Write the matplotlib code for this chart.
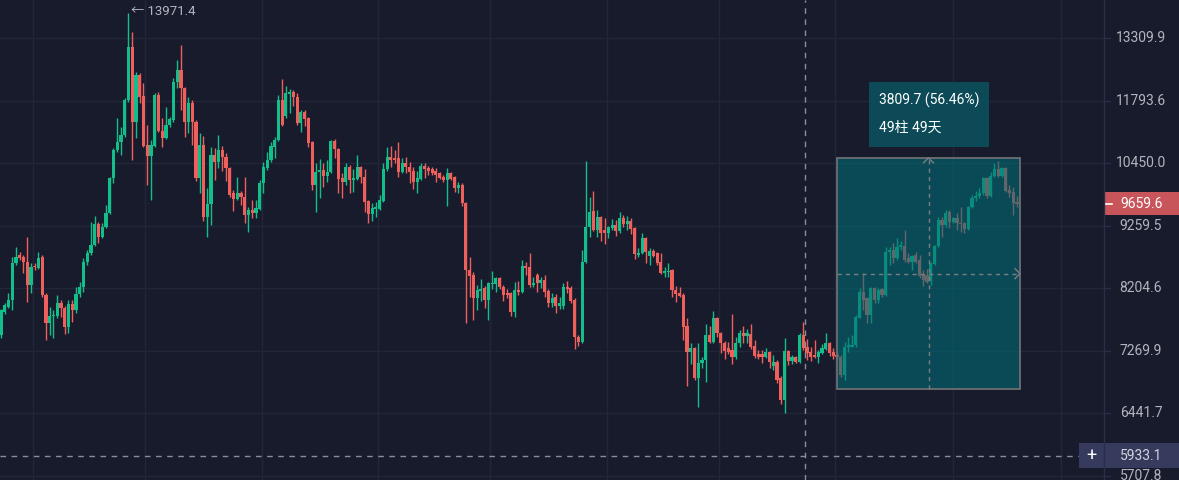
import numpy as np
import matplotlib.pyplot as plt
import matplotlib.transforms as mtransforms
from matplotlib.patches import Rectangle
from matplotlib.lines import Line2D

# daily candles
opens = [7496, 7837, 7913, 8021, 8616, 8750, 8717, 8633, 8257, 8566,
         8533, 8717, 8099, 7672, 7776, 7776, 7975, 7898, 7613, 7959,
         7867, 8115, 8225, 8633, 8784, 8921, 9290, 9060, 9237, 9490,
         10154, 10719, 10886, 11035, 11806, 13081, 11315, 12392, 11898, 10824,
         10596, 10802, 11921, 11120, 10971, 11250, 11359, 12225, 12511, 12084,
         11315, 11738, 11315, 10154, 10824, 9417, 9657, 10617, 10474, 10719,
         10576, 10352, 9864, 9750, 9864, 9788, 9453, 9545, 9490, 9564,
         10057, 10352, 10514, 10782, 10928, 11806, 11447, 11944, 11991, 11875,
         11294, 11536, 11403, 10886, 10018, 10272, 10312, 10194, 10272, 10907,
         10740, 10154, 10076, 10373, 10115, 10135, 10373, 10174, 9712, 9472,
         9564, 9564, 9712, 10332, 10576, 10555, 10555, 10272, 10454, 10373,
         10292, 10076, 10135, 10393, 10352, 10332, 10292, 10253, 10174, 10115,
         10253, 10174, 9960, 10018, 9675, 8500, 8419, 8052, 8161, 8209,
         8021, 8273, 8273, 8370, 8225, 8130, 8130, 7837, 8177, 8146,
         8566, 8550, 8257, 8419, 8289, 8337, 8161, 7975, 8068, 7929,
         7929, 8225, 8209, 8021, 7467, 7396, 8633, 9237, 9527, 9183,
         9417, 9183, 9130, 9219, 9272, 9165, 9399, 9290, 9344, 9219,
         8750, 8784, 9042, 8734, 8818, 8784, 8633, 8451, 8467, 8500,
         8177, 8130, 8099, 7628, 7254, 7310, 6898, 7101, 7142, 7496,
         7396, 7746, 7526, 7381, 7310, 7282, 7184, 7381, 7526, 7482,
         7511, 7339, 7226, 7226, 7184, 7254, 7060, 7115, 6898, 6611,
         7268, 7128, 7184, 7115, 7496, 7325, 7254, 7212, 7184, 7240,
         7296, 7381, 7254, 7212, 7184, 6938, 7325, 7325, 7353, 7746,
         8146, 8052, 7792, 8209, 8021, 8193, 8099, 8801, 8835, 8700,
         8884, 8904, 8700, 8633, 8750, 8666, 8435, 8419, 8321, 8600,
         8904, 9362, 9272, 9508, 9326, 9399, 9308, 9308, 9201, 9601,
         9769, 9807, 9864, 10154, 9807, 10194, 10332, 10194, 10352, 9921,
         9883, 9694]
highs = [7880, 7975, 8130, 8717, 8884, 8801, 8750, 9060, 8616, 8616,
         8801, 8750, 8130, 7913, 7867, 8099, 8021, 7929, 8021, 8021,
         8225, 8305, 8700, 8835, 9326, 9435, 9326, 9308, 9638, 10174,
         10761, 11403, 11206, 11852, 13971.4, 13465, 12463, 12439, 12202, 11250,
         10928, 11968, 11991, 11403, 11648, 11425, 12320, 12756, 13132, 12108,
         11875, 11806, 11359, 11077, 11013, 9960, 10782, 10761, 11035, 10802,
         10658, 10373, 9921, 10174, 9902, 10174, 9601, 9731, 9731, 10115,
         10474, 10678, 10886, 10992, 11921, 12296, 12131, 12060, 12037, 11968,
         11580, 11580, 11425, 10900, 10454, 10535, 10454, 10514, 10928, 10949,
         10761, 10253, 10454, 10413, 10332, 10617, 10393, 10332, 9731, 9675,
         9694, 9826, 10454, 10782, 10802, 10719, 10886, 10555, 10576, 10474,
         10373, 10292, 10454, 10454, 10393, 10373, 10352, 10272, 10214, 10352,
         10272, 10190, 10076, 10057, 9694, 8717, 8467, 8257, 8353, 8241,
         8305, 8484, 8386, 8386, 8257, 8193, 8146, 8305, 8321, 8666,
         8633, 8784, 8386, 8451, 8386, 8419, 8193, 8130, 8115, 8068,
         8289, 8321, 8241, 8052, 7496, 8835, 10494, 9788, 9902, 9545,
         9430, 9399, 9255, 9381, 9362, 9508, 9453, 9435, 9399, 9237,
         8870, 9130, 9060, 8870, 8852, 8800, 8784, 8550, 8616, 8510,
         8241, 8225, 8130, 7746, 7381, 7325, 7381, 7184, 7657, 7628,
         7852, 7761, 7540, 7410, 7396, 7807, 7467, 7569, 7628, 7584,
         7657, 7424, 7282, 7282, 7310, 7268, 7212, 7142, 6925, 7453,
         7282, 7212, 7198, 7526, 7687, 7439, 7325, 7424, 7282, 7367,
         7526, 7396, 7310, 7254, 7212, 7396, 7467, 7496, 7792, 8209,
         8451, 8068, 8225, 8220, 8209, 8209, 8884, 8884, 8954, 9042,
         8990, 9183, 8784, 8750, 8801, 8750, 8500, 8516, 8633, 8921,
         9417, 9417, 9545, 9545, 9417, 9490, 9601, 9326, 9620, 9826,
         9902, 9960, 10174, 10174, 10272, 10454, 10494, 10373, 10373, 10018,
         9979, 9807]
lows = [7453, 7807, 7900, 7867, 8583, 8666, 8451, 7990, 8130, 8500,
        8520, 8068, 7424, 7496, 7453, 7746, 7761, 7511, 7526, 7687,
        7822, 8068, 8146, 8583, 8750, 8900, 8954, 9042, 9219, 9470,
        10057, 10678, 10617, 10992, 11761, 10514, 10971, 11738, 10782, 10018,
        9731, 10782, 11098, 10782, 10949, 11206, 11315, 12084, 11580, 10992,
        11077, 10824, 10096, 9864, 9344, 9060, 9272, 10115, 10352, 10292,
        10096, 9788, 9527, 9731, 9638, 9308, 9148, 9399, 9399, 9545,
        9864, 10312, 10474, 10555, 10900, 11228, 11403, 11514, 11670, 11250,
        11098, 11228, 10782, 9921, 9508, 9769, 9979, 10076, 10253, 10555,
        9864, 9769, 10018, 9864, 9883, 10115, 10057, 9508, 9308, 9344,
        9417, 9545, 9700, 10292, 10373, 10454, 10174, 10253, 10253, 10057,
        9940, 9864, 10115, 10154, 10214, 10214, 10076, 10135, 10076, 9620,
        10115, 9883, 9864, 9620, 7672, 8068, 7716, 7867, 8006, 7898,
        7716, 8193, 8146, 8193, 8006, 8052, 7776, 7761, 8099, 8130,
        8419, 8225, 8225, 8146, 8209, 8068, 7913, 7913, 7822, 7882,
        7882, 8130, 7975, 7296, 7339, 7381, 8616, 9060, 9170, 9060,
        8990, 8937, 9042, 9183, 9077, 9130, 9237, 9183, 9113, 8683,
        8717, 8767, 8616, 8583, 8717, 8583, 8435, 8386, 8386, 8068,
        7990, 8068, 7424, 6792, 7087, 6871, 6522, 7032, 6845, 7381,
        7381, 7467, 7240, 7156, 7226, 7087, 7156, 7325, 7381, 7381,
        7296, 7170, 7156, 7101, 7170, 7032, 7005, 6832, 6560, 6447,
        7074, 7087, 7101, 7101, 7282, 7142, 7128, 7170, 7101, 7226,
        7282, 7198, 7156, 7156, 6911, 6871, 7254, 7320, 7325, 7740,
        7867, 7672, 7672, 7975, 7975, 8068, 8084, 8583, 8616, 8666,
        8835, 8633, 8616, 8500, 8616, 8370, 8241, 8289, 8257, 8583,
        8884, 9060, 9237, 9219, 9308, 9183, 9148, 9130, 9183, 9590,
        9712, 9769, 9826, 9769, 9788, 10174, 10174, 10174, 9883, 9788,
        9453, 9601]
closes = [7867, 7944, 8021, 8616, 8717, 8700, 8633, 8257, 8550, 8550,
          8700, 8099, 7672, 7776, 7792, 7975, 7898, 7613, 7959, 7867,
          8115, 8225, 8633, 8784, 8921, 9290, 9060, 9237, 9490, 10154,
          10719, 10886, 11035, 11806, 13081, 11315, 12392, 11875, 10802, 10596,
          10824, 11921, 11120, 10971, 11250, 11381, 12225, 12511, 12084, 11315,
          11738, 11315, 10154, 10824, 9417, 9657, 10617, 10474, 10719, 10576,
          10352, 9826, 9750, 9864, 9788, 9453, 9545, 9490, 9582, 10057,
          10373, 10514, 10802, 10928, 11806, 11250, 11968, 11991, 11875, 11294,
          11536, 11381, 10865, 10018, 10272, 10312, 10194, 10272, 10907, 10740,
          10135, 10076, 10373, 10115, 10154, 10373, 10174, 9694, 9472, 9582,
          9601, 9731, 10332, 10576, 10514, 10514, 10272, 10454, 10373, 10272,
          10076, 10154, 10393, 10332, 10292, 10253, 10214, 10154, 10115, 10253,
          10135, 9960, 10018, 9675, 8500, 8402, 8052, 8177, 8193, 8021,
          8289, 8289, 8370, 8225, 8099, 8099, 7837, 8177, 8146, 8566,
          8533, 8257, 8289, 8289, 8337, 8146, 7975, 8052, 7929, 7975,
          8225, 8193, 8006, 7467, 7396, 8633, 9237, 9508, 9183, 9417,
          9130, 9130, 9237, 9272, 9165, 9399, 9290, 9344, 9201, 8767,
          8784, 9042, 8801, 8818, 8734, 8616, 8451, 8484, 8484, 8177,
          8115, 8084, 7613, 7254, 7310, 6898, 7101, 7142, 7496, 7396,
          7746, 7526, 7381, 7268, 7254, 7184, 7381, 7526, 7482, 7526,
          7325, 7198, 7184, 7184, 7254, 7115, 7115, 6871, 6611, 7268,
          7128, 7184, 7115, 7496, 7310, 7240, 7184, 7184, 7254, 7310,
          7381, 7240, 7198, 7184, 6938, 7325, 7353, 7353, 7761, 8146,
          8021, 7792, 8209, 8021, 8177, 8099, 8801, 8835, 8700, 8884,
          8921, 8666, 8633, 8734, 8633, 8402, 8337, 8305, 8616, 8904,
          9362, 9272, 9490, 9326, 9399, 9308, 9290, 9201, 9601, 9769,
          9807, 9864, 10154, 9807, 10194, 10332, 10194, 10352, 9902, 9864,
          9675, 9659.6]

price_ticks = [13309.9, 11793.6, 10450.0, 9259.5, 8204.6, 7269.9, 6441.7, 5707.8]
last_price = 9659.6
cross_price = 5933.1
peak_price = 13971.4
range_low = 6747.6
range_change = 3809.7
range_pct = 56.46
range_bars = 49
range_days = 49

BG = '#181b2c'
GRID = '#22263a'
UP = '#12bf8b'
DOWN = '#ef5f5c'
TXT = '#b2b5be'
FONT = ['Roboto', 'Noto Sans CJK SC', 'DejaVu Sans']

W, H = 1179, 480
PLOT_W = 1104
bar_px = 3.749

fig = plt.figure(figsize=(W / 100, H / 100), dpi=100)
fig.patch.set_facecolor(BG)
ax = fig.add_axes([0, 0, PLOT_W / W, 1])
ax.set_facecolor(BG)
ax.set_yscale('log')
ax.set_xlim(-1 / bar_px, (PLOT_W - 1) / bar_px)
ax.set_ylim(5663.6, 14324.4)
ax.tick_params(which='both', left=False, right=False, bottom=False, top=False,
               labelleft=False, labelbottom=False)
for s in ax.spines.values():
    s.set_visible(False)

# grid
for p in price_ticks:
    ax.axhline(p, color=GRID, lw=1, zorder=0)
grid_bars = [8.5, 38.4, 69.6, 100.6, 130.4, 161.6, 191.5, 222.5, 253.9, 282.7]
for g in grid_bars:
    ax.axvline(g, color=GRID, lw=1, zorder=0)

o = np.array(opens, float)
h = np.array(highs, float)
l = np.array(lows, float)
c = np.array(closes, float)
n = len(c)
x = np.arange(n)
col = np.where(c >= o, UP, DOWN)

ax.vlines(x, np.minimum(l, np.minimum(o, c)), np.maximum(h, np.maximum(o, c)),
          colors=col, lw=1, zorder=2)
bot = np.minimum(o, c)
top = np.maximum(np.maximum(o, c), bot * 1.0018)
ax.bar(x, top - bot, bottom=bot, width=0.84, color=col, lw=0, zorder=3)

# crosshair
cross_bar = 214.45
ax.axvline(cross_bar, color='#8a8e9c', lw=1, ls=(0, (4, 4)), zorder=6)
ax.axhline(cross_price, color='#8a8e9c', lw=1, ls=(0, (4, 4)), zorder=6)

# price range tool
range_high = range_low + range_change
box_l = n - range_bars
box_r = n - 1 + 0.8
ax.add_patch(Rectangle((box_l, range_low), box_r - box_l, range_high - range_low,
                       facecolor='#026b74', alpha=0.6, edgecolor='none', zorder=4))
ax.add_patch(Rectangle((box_l, range_low), box_r - box_l, range_high - range_low,
                       fill=False, edgecolor='#6c6f72', lw=1.3, zorder=5))
mid_x = (box_l + box_r) / 2
mid_p = np.sqrt(range_low * range_high)
ax.plot([mid_x, mid_x], [range_low, range_high], color='#7b7e80', lw=1,
        ls=(0, (3, 3)), zorder=5)
ax.plot([box_l, box_r], [mid_p, mid_p], color='#7b7e80', lw=1,
        ls=(0, (3, 3)), zorder=5)


def px(xv, pv):
    return ax.transData.transform((xv, pv))


ident = mtransforms.IdentityTransform()

# chevrons on the range lines
tx, ty = px(mid_x, range_high)
fig.add_artist(Line2D([tx - 5, tx, tx + 5], [ty - 5, ty, ty - 5], color='#7b7e80',
                      lw=1, transform=ident))
rx, ry = px(box_r, mid_p)
fig.add_artist(Line2D([rx - 5, rx, rx - 5], [ry + 5, ry, ry - 5], color='#7b7e80',
                      lw=1, transform=ident))

# tooltip above the box
tip_w, tip_h = 120, 65
tip_b = ty + 11
fig.add_artist(Rectangle((tx - tip_w / 2, tip_b), tip_w, tip_h, facecolor='#0c4a57',
                         edgecolor='none', transform=ident))
fig.text(tx - tip_w / 2 + 10, tip_b + 47, f'{range_change:.1f} ({range_pct:.2f}%)',
         transform=ident, color='#ffffff', fontsize=10, family=FONT,
         ha='left', va='center')
fig.text(tx - tip_w / 2 + 10, tip_b + 19, f'{range_bars}柱 {range_days}天',
         transform=ident, color='#ffffff', fontsize=10, family=FONT,
         ha='left', va='center')

# peak marker
pk_i = int(np.argmax(h))
kx, ky = px(pk_i, peak_price)
fig.text(kx + 3, ky + 1, f'← {peak_price:.1f}', transform=ident, color=TXT,
         fontsize=9.5, family=FONT, ha='left', va='center')

# right price scale
fig.add_artist(Line2D([PLOT_W, PLOT_W], [0, H], color='#2a2e46', lw=1, transform=ident))
for p in price_ticks:
    _, yp = px(0, p)
    fig.add_artist(Line2D([PLOT_W, PLOT_W + 6], [yp, yp], color='#2a2e46', lw=1,
                          transform=ident))
    fig.text(1141, yp, f'{p:.1f}', transform=ident, color=TXT, fontsize=10,
             family=FONT, ha='center', va='center')

_, yl = px(0, last_price)
fig.add_artist(Rectangle((PLOT_W, yl - 11.5), W - PLOT_W, 23, facecolor='#c8555a',
                         edgecolor='none', transform=ident))
fig.add_artist(Line2D([PLOT_W + 2, PLOT_W + 8], [yl, yl], color='white', lw=1.2,
                      transform=ident))
fig.text(1142, yl, f'{last_price:.1f}', transform=ident, color='white', fontsize=10,
         family=FONT, ha='center', va='center')

_, yc = px(0, cross_price)
fig.add_artist(Rectangle((PLOT_W - 25, yc - 12.5), W - PLOT_W + 25, 25,
                         facecolor='#363a5c', edgecolor='none', transform=ident))
fig.text(PLOT_W - 12.5, yc, '+', transform=ident, color='white', fontsize=13,
         family=FONT, ha='center', va='center')
fig.text(1141, yc, f'{cross_price:.1f}', transform=ident, color='#d1d4dc', fontsize=10,
         family=FONT, ha='center', va='center')

fig.savefig('out.png', dpi=100, facecolor=BG)
